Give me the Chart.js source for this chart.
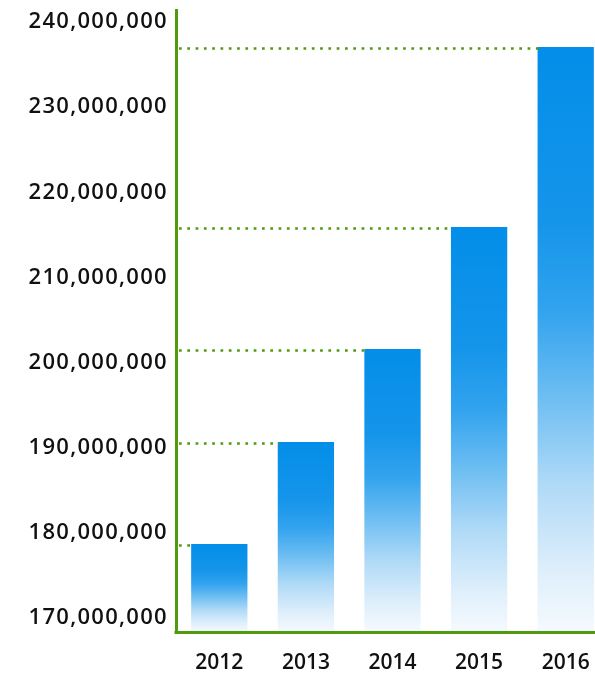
<!DOCTYPE html>
<html>
<head>
<meta charset="utf-8">
<script src="https://cdn.jsdelivr.net/npm/chart.js@4.4.1/dist/chart.umd.min.js"></script>
<style>
  html, body { margin: 0; padding: 0; background: #fff; overflow: hidden; }
  #wrap { position: relative; width: 609px; height: 681px; }
</style>
</head>
<body>
<div id="wrap"><canvas id="chart"></canvas></div>
<script>
// Chart data
const years = ['2012', '2013', '2014', '2015', '2016'];
const values = [178690000, 190670000, 201590000, 215920000, 237060000];
const yTicks = [170000000, 180000000, 190000000, 200000000, 210000000, 220000000, 230000000, 240000000];

const green = '#4f9a0e';
const blue = '#038ee9';
const xFont = { family: "'Open Sans', sans-serif", size: 21, weight: '600' };
const yFont = { family: "'Open Sans', sans-serif", size: 22, weight: '600' };

// Vertical fade per bar: solid at the top, almost white at the base
function barGradient(context) {
  const chart = context.chart;
  const { chartArea, scales } = chart;
  if (!chartArea) return blue;
  const top = scales.y.getPixelForValue(context.raw);
  const g = chart.ctx.createLinearGradient(0, top, 0, chartArea.bottom);
  g.addColorStop(0, '#038ee9');
  g.addColorStop(0.3, '#1595ea');
  g.addColorStop(0.45, '#32a3ee');
  g.addColorStop(0.6, '#6ebef2');
  g.addColorStop(0.75, '#b0daf7');
  g.addColorStop(0.9, '#dfeffb');
  g.addColorStop(1, '#f5fafe');
  return g;
}

// Dotted guide from the y axis to the top-left corner of each bar,
// plus the x axis line again so the bars do not cover it
const guideLines = {
  id: 'guideLines',
  afterDatasetsDraw(chart) {
    const { ctx, chartArea } = chart;
    const bars = chart.getDatasetMeta(0).data;
    ctx.save();
    ctx.strokeStyle = green;
    ctx.lineWidth = 2.7;
    ctx.setLineDash([2.7, 5.6]);
    bars.forEach(bar => {
      const y = Math.round(bar.y) + 1.5;
      ctx.beginPath();
      ctx.moveTo(chartArea.left + 3, y);
      ctx.lineTo(bar.x - bar.width / 2 + 2, y);
      ctx.stroke();
    });
    ctx.setLineDash([]);
    ctx.lineWidth = 3;
    const yb = Math.round(chartArea.bottom) + 0.5;
    ctx.beginPath();
    ctx.moveTo(chartArea.left - 1.5, yb);
    ctx.lineTo(chartArea.right, yb);
    ctx.stroke();
    ctx.restore();
  }
};

new Chart(document.getElementById('chart'), {
  type: 'bar',
  data: {
    labels: years,
    datasets: [{
      data: values,
      backgroundColor: barGradient,
      borderWidth: 0,
      barPercentage: 0.65,
      categoryPercentage: 1
    }]
  },
  options: {
    responsive: true,
    maintainAspectRatio: false,
    animation: false,
    layout: { padding: { top: 10, left: 0, right: 0, bottom: 0 } },
    plugins: {
      legend: { display: false },
      tooltip: { enabled: false }
    },
    scales: {
      x: {
        grid: { display: false, drawTicks: false },
        border: { display: true, color: green, width: 3 },
        ticks: { color: '#111', font: xFont, padding: 18, maxRotation: 0 },
        afterFit(scale) { scale.height = 49; }
      },
      y: {
        min: 168360000,
        max: 241410000,
        grid: { display: false, drawTicks: false },
        border: { display: true, color: green, width: 3 },
        afterBuildTicks(scale) {
          scale.ticks = yTicks.map(v => ({ value: v }));
        },
        afterUpdate(scale) {
          // the reference numbers are set wider, so space the letters a bit
          if (scale._spaced) return;
          const drawLabels = scale.drawLabels.bind(scale);
          scale.drawLabels = area => {
            scale.ctx.save();
            scale.ctx.letterSpacing = '1.3px';
            drawLabels(area);
            scale.ctx.restore();
          };
          scale._spaced = true;
        },
        ticks: {
          color: '#111',
          font: yFont,
          padding: 8,
          callback: v => v.toLocaleString('en-US')
        },
        afterFit(scale) {
          scale.width = 176;
          scale.paddingTop = 0;
          scale.paddingBottom = 0;
        }
      }
    }
  },
  plugins: [guideLines]
});
</script>
</body>
</html>
